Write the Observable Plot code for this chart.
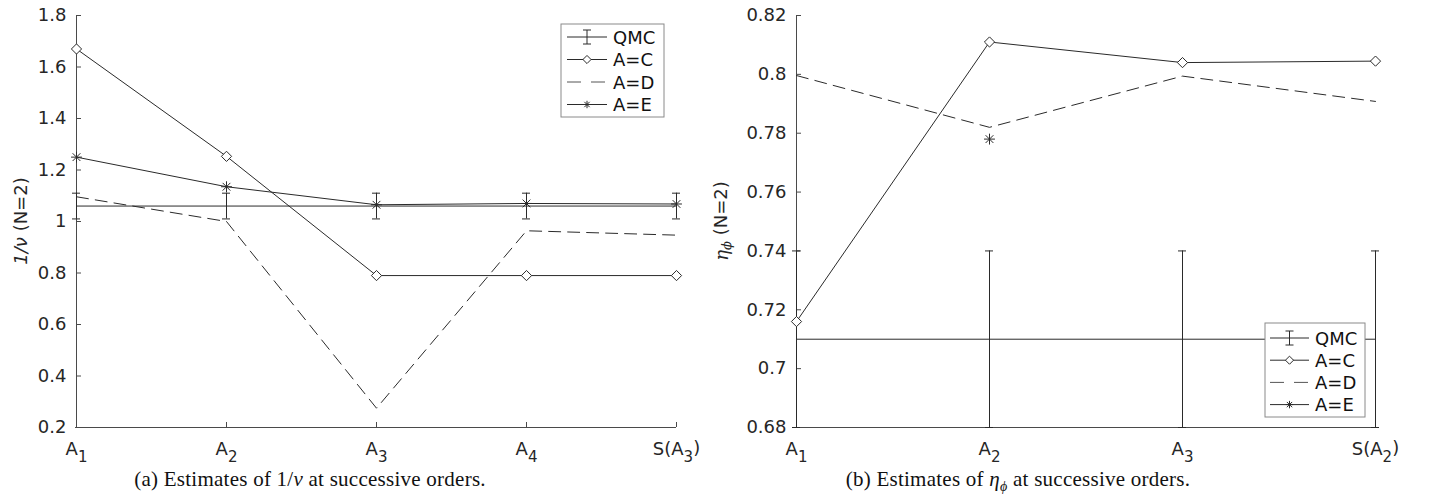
<!DOCTYPE html>
<html><head><meta charset="utf-8">
<script src="https://cdn.jsdelivr.net/npm/d3@7"></script>
<script src="https://cdn.jsdelivr.net/npm/@observablehq/plot@0.6"></script>
<style>
body{margin:0;background:#fff;}
#wrap{position:relative;width:1434px;height:504px;overflow:hidden;background:#fff;}
.panel{position:absolute;top:0;}
.cap{position:absolute;top:467px;font-family:"Liberation Serif",serif;font-size:21px;letter-spacing:0.25px;line-height:24px;color:#111;white-space:nowrap;transform:translateX(-50%);}
</style></head><body>
<div id="wrap">
 <div id="pa" class="panel" style="left:0"></div>
 <div id="pb" class="panel" style="left:697px"></div>
 <div class="cap" style="left:310px">(a) Estimates of 1/<i>ν</i> at successive orders.</div>
 <div class="cap" style="left:1018px">(b) Estimates of <i>η</i><sub style="font-size:14px"><i>ϕ</i></sub> at successive orders.</div>
</div>
<script>
// ---- data: panel (a) 1/nu ----
const ordersA = ["A_1","A_2","A_3","A_4","S(A_3)"];
const qmcA    = [1.06, 1.06, 1.06, 1.06, 1.06];
const qmcErrA = [0.05, 0.05, 0.05, 0.05, 0.05];
const acA     = [1.670, 1.253, 0.790, 0.790, 0.790];
const adA     = [1.096, 1.000, 0.275, 0.964, 0.947];
const aeA     = [1.250, 1.135, 1.065, 1.070, 1.068];
const yTicksA = [0.2, 0.4, 0.6, 0.8, 1.0, 1.2, 1.4, 1.6, 1.8];

// ---- data: panel (b) eta_phi ----
const ordersB = ["A_1","A_2","A_3","S(A_2)"];
const qmcB    = [0.71, 0.71, 0.71, 0.71];
const qmcErrB = [0.03, 0.03, 0.03, 0.03];
const acB     = [0.716, 0.811, 0.804, 0.8045];
const adB     = [0.7996, 0.782, 0.7994, 0.7908];
const aeB     = [null, 0.778, null, null];
const yTicksB = [0.68, 0.70, 0.72, 0.74, 0.76, 0.78, 0.80, 0.82];

const seriesNames = ["QMC", "A=C", "A=D", "A=E"];

const INK = "#2a2a2a";
const AXIS = "#4a4a4a";
const DASH = "12,7";

function rows(orders, vals, errs) {
  return orders.map((o, i) => ({x: o, y: vals[i], e: errs ? errs[i] : 0}));
}

function chart({orders, qmc, qmcErr, ac, ad, ae, yTicks, width, marginLeft, marginRight}) {
  const Q = rows(orders, qmc, qmcErr);
  const C = rows(orders, ac);
  const D = rows(orders, ad);
  const E = rows(orders, ae);
  const Edef = E.filter(d => d.y != null);
  const y0 = yTicks[0];
  const x0 = orders[0];
  return Plot.plot({
    width, height: 466,
    marginLeft, marginRight, marginTop: 15, marginBottom: 39,
    style: {fontFamily: "DejaVu Sans", fontSize: "18px", color: "#262626", background: "transparent", overflow: "visible"},
    x: {type: "point", domain: orders, padding: 0},
    y: {domain: [yTicks[0], yTicks[yTicks.length - 1]]},
    marks: [
      Plot.axisY(yTicks, {tickSize: 0, tickPadding: 9, label: null, fill: "#262626",
        tickFormat: d => String(+d.toFixed(2))}),
      Plot.axisX(orders, {tickSize: 0, tickPadding: 15, label: null, fill: "#262626"}),
      // axis lines + inward ticks
      Plot.ruleX([x0], {x: d => d, stroke: AXIS, strokeWidth: 1}),
      Plot.ruleY([y0], {y: d => d, stroke: AXIS, strokeWidth: 1}),
      Plot.ruleY(yTicks, {y: d => d, x1: () => x0, x2: () => x0, insetRight: -5, stroke: AXIS, strokeWidth: 1}),
      Plot.ruleX(orders, {x: d => d, y1: () => y0, y2: () => y0, insetBottom: 5, stroke: AXIS, strokeWidth: 1}),
      // QMC with error bars
      Plot.line(Q, {x: "x", y: "y", stroke: INK, strokeWidth: 1}),
      Plot.ruleX(Q, {x: "x", y1: d => d.y - d.e, y2: d => d.y + d.e, stroke: INK, strokeWidth: 1}),
      Plot.ruleY(Q, {x1: "x", x2: "x", y: d => d.y + d.e, insetLeft: -4, insetRight: -4, stroke: INK, strokeWidth: 1}),
      Plot.ruleY(Q, {x1: "x", x2: "x", y: d => d.y - d.e, insetLeft: -4, insetRight: -4, stroke: INK, strokeWidth: 1}),
      // A=D dashed
      Plot.line(D, {x: "x", y: "y", stroke: INK, strokeWidth: 1, strokeDasharray: DASH}),
      // A=E asterisks
      Plot.line(E, {x: "x", y: "y", stroke: INK, strokeWidth: 1}),
      Plot.dot(Edef, {x: "x", y: "y", symbol: "plus", r: 3.6, stroke: INK, strokeWidth: 1}),
      Plot.dot(Edef, {x: "x", y: "y", symbol: "times", r: 3.6, stroke: INK, strokeWidth: 1}),
      // A=C diamonds
      Plot.line(C, {x: "x", y: "y", stroke: INK, strokeWidth: 1}),
      Plot.dot(C, {x: "x", y: "y", symbol: "diamond2", r: 4.6, fill: "white", stroke: INK, strokeWidth: 1})
    ]
  });
}

function subscriptTicks(svg) {
  d3.select(svg).selectAll('g[aria-label="x-axis tick label"] text').each(function () {
    const t = this.textContent;
    const m = t.match(/^(.*?)_(.)(.*)$/);
    if (!m) return;
    const s = d3.select(this);
    s.text(null);
    s.append("tspan").text(m[1]);
    s.append("tspan").attr("dy", "0.45em").attr("font-size", "15px").text(m[2]);
    if (m[3]) s.append("tspan").attr("dy", "-0.45em").text(m[3]);
  });
}

function yLabel(svg, cx, cy, build) {
  const t = d3.select(svg).append("text")
    .attr("transform", `translate(${cx},${cy}) rotate(-90)`)
    .attr("text-anchor", "middle").attr("dominant-baseline", "central")
    .attr("fill", "#262626").style("font-size", "18px").style("font-family", "DejaVu Sans");
  build(t);
}

function legend(svg, bx, by, bw, bh, step, first, sx0, sx1, tx) {
  const g = d3.select(svg).append("g");
  g.append("rect").attr("x", bx).attr("y", by).attr("width", bw).attr("height", bh)
    .attr("fill", "white").attr("stroke", "#8a8a8a").attr("stroke-width", 1);
  seriesNames.forEach((name, i) => {
    const y = by + first + i * step;
    const x0 = bx + sx0, x1 = bx + sx1, xm = (x0 + x1) / 2;
    const line = g.append("line").attr("x1", x0).attr("x2", x1).attr("y1", y).attr("y2", y)
      .attr("stroke", INK).attr("stroke-width", 1);
    if (name === "QMC") {
      g.append("line").attr("x1", xm).attr("x2", xm).attr("y1", y - 7).attr("y2", y + 7).attr("stroke", INK);
      g.append("line").attr("x1", xm - 4).attr("x2", xm + 4).attr("y1", y - 7).attr("y2", y - 7).attr("stroke", INK);
      g.append("line").attr("x1", xm - 4).attr("x2", xm + 4).attr("y1", y + 7).attr("y2", y + 7).attr("stroke", INK);
    } else if (name === "A=C") {
      g.append("path").attr("d", d3.symbol(d3.symbolDiamond2, 42)()).attr("transform", `translate(${xm},${y})`)
        .attr("fill", "white").attr("stroke", INK);
    } else if (name === "A=D") {
      line.attr("stroke-dasharray", "14,10").attr("stroke", "#555");
    } else {
      g.append("path").attr("d", d3.symbol(d3.symbolPlus, 20)()).attr("transform", `translate(${xm},${y})`)
        .attr("fill", "none").attr("stroke", INK);
      g.append("path").attr("d", d3.symbol(d3.symbolTimes, 20)()).attr("transform", `translate(${xm},${y})`)
        .attr("fill", "none").attr("stroke", INK);
    }
    g.append("text").attr("x", bx + tx).attr("y", y).attr("dominant-baseline", "central")
      .attr("text-anchor", "start")
      .attr("fill", "#111").style("font-size", "18px").style("font-family", "DejaVu Sans").text(name);
  });
}

const svgA = chart({orders: ordersA, qmc: qmcA, qmcErr: qmcErrA, ac: acA, ad: adA, ae: aeA,
  yTicks: yTicksA, width: 717, marginLeft: 75, marginRight: 41});
subscriptTicks(svgA);
yLabel(svgA, 20, 221, t => {
  t.append("tspan").attr("font-style", "italic").text("1/ν");
  t.append("tspan").text(" (N=2)");
});
legend(svgA, 561, 24, 103, 93, 22.5, 13, 6, 46, 52);
document.getElementById("pa").appendChild(svgA);

const svgB = chart({orders: ordersB, qmc: qmcB, qmcErr: qmcErrB, ac: acB, ad: adB, ae: aeB,
  yTicks: yTicksB, width: 737, marginLeft: 98, marginRight: 58});
subscriptTicks(svgB);
yLabel(svgB, 24, 221, t => {
  t.append("tspan").attr("font-style", "italic").style("font-family", "DejaVu Serif").text("η");
  t.append("tspan").attr("font-style", "italic").style("font-family", "DejaVu Serif").attr("font-size", "13px").attr("dy", "0.35em").text("ϕ");
  t.append("tspan").attr("dy", "-0.3em").text(" (N=2)");
});
legend(svgB, 568, 323, 100, 94, 22.2, 15, 5, 44, 50);
document.getElementById("pb").appendChild(svgB);
</script>
</body></html>
